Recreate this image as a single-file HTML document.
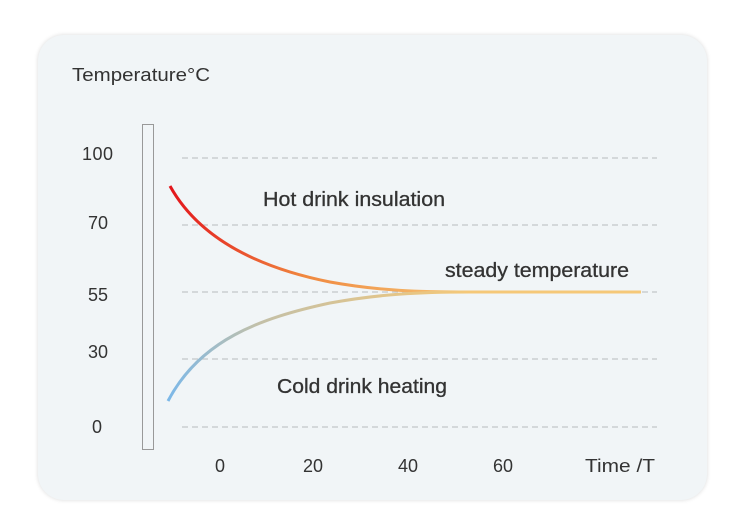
<!DOCTYPE html>
<html><head><style>
body{margin:0;background:#fff;width:750px;height:527px;overflow:hidden;font-family:"Liberation Sans",sans-serif}
.card{position:absolute;left:38px;top:35px;width:669px;height:465px;border-radius:26px;background:#f1f5f7;box-shadow:0 0 4px rgba(0,0,0,0.15)}
</style></head><body>
<div class="card"></div>
<svg width="750" height="527" style="position:absolute;left:0;top:0">
<defs>
<linearGradient id="hot" x1="170" y1="0" x2="470" y2="0" gradientUnits="userSpaceOnUse">
<stop offset="0" stop-color="#e3161c"/><stop offset="0.45" stop-color="#f0883f"/><stop offset="1" stop-color="#f5c878"/></linearGradient>
<linearGradient id="cold" x1="168" y1="0" x2="470" y2="0" gradientUnits="userSpaceOnUse">
<stop offset="0" stop-color="#7cb8e8"/><stop offset="0.3" stop-color="#c3c0a8"/><stop offset="1" stop-color="#f5c878"/></linearGradient>
</defs>
<g stroke="#c4c7c9" stroke-width="1.2" stroke-dasharray="6,4">
<line x1="182" y1="158" x2="657" y2="158"/><line x1="182" y1="225" x2="657" y2="225"/>
<line x1="182" y1="292" x2="657" y2="292"/><line x1="182" y1="359" x2="657" y2="359"/>
<line x1="182" y1="427" x2="657" y2="427"/></g>
<rect x="142.5" y="124.5" width="11" height="325" fill="none" stroke="#999" stroke-width="1"/>
<path d="M170 186 C200 240 260 268 330 282 C380 291 420 292 470 292" fill="none" stroke="url(#hot)" stroke-width="3"/>
<path d="M168 401 C200 340 260 318 330 303 C380 294 420 292 470 292" fill="none" stroke="url(#cold)" stroke-width="3"/>
<line x1="465" y1="292" x2="641" y2="292" stroke="#f5c878" stroke-width="3"/>
<g font-size="18" fill="#333">
<text x="72" y="81" textLength="138" lengthAdjust="spacingAndGlyphs">Temperature°C</text>
<text x="82" y="160" textLength="31">100</text><text x="88" y="229">70</text><text x="88" y="301">55</text>
<text x="88" y="358">30</text><text x="92" y="433">0</text>
<text x="215" y="472">0</text><text x="303" y="472">20</text><text x="398" y="472">40</text><text x="493" y="472">60</text>
<text x="585" y="472" textLength="70" lengthAdjust="spacingAndGlyphs">Time /T</text>
</g>
<g font-size="20" fill="#333" stroke="#333" stroke-width="0.3">
<text x="263" y="206" textLength="182" lengthAdjust="spacingAndGlyphs">Hot drink insulation</text>
<text x="445" y="277" textLength="184" lengthAdjust="spacingAndGlyphs">steady temperature</text>
<text x="277" y="393" textLength="170" lengthAdjust="spacingAndGlyphs">Cold drink heating</text>
</g>
</svg>
</body></html>
